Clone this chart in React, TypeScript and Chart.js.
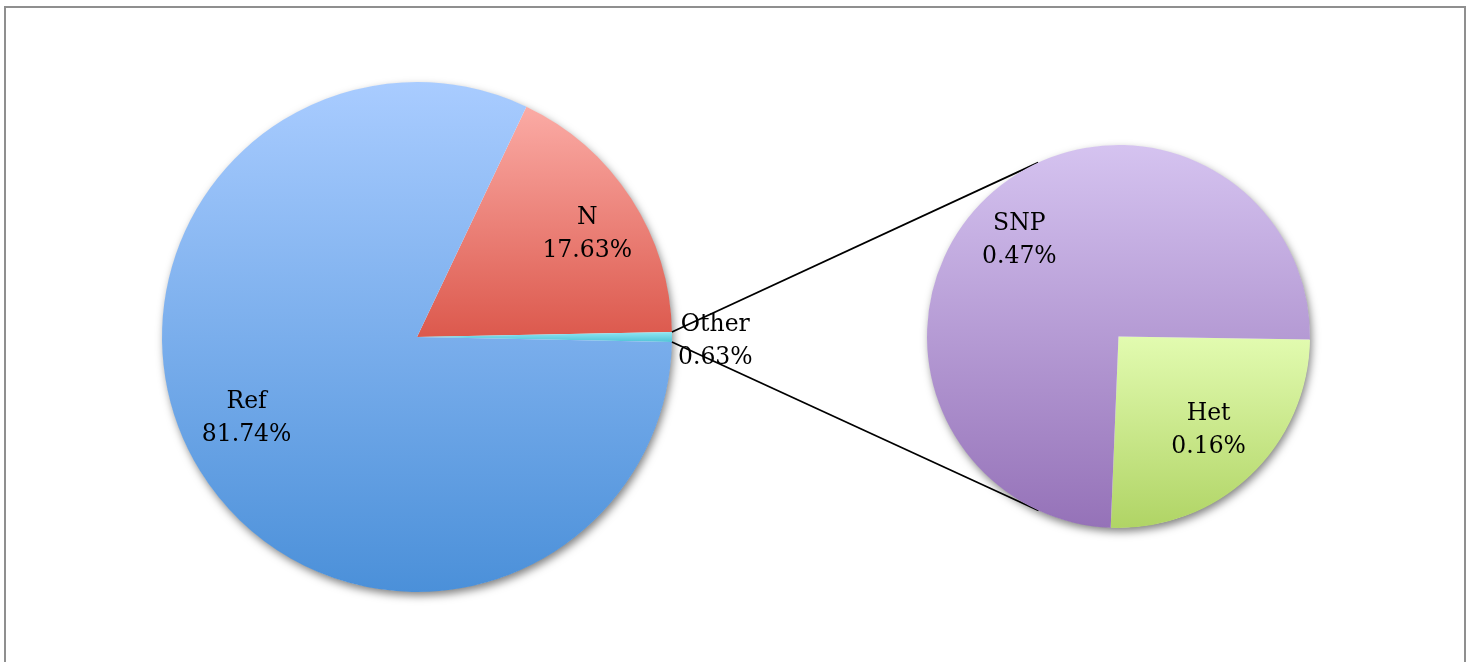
import React, { useEffect, useRef } from "react";
import { Chart, registerables } from "chart.js";

Chart.register(...registerables);

// ---- data ----
const mainLabels = ["N", "Other", "Ref"];
const mainValues = [17.63, 0.63, 81.74];
const subLabels = ["Het", "SNP"];
const subValues = [0.16, 0.47];

// ---- style ----
const mainTopColors = ["#fbaba5", "#92e7f3", "#a9ccff"];
const mainBottomColors = ["#dc594d", "#4fc3d7", "#4b90d9"];
const subTopColors = ["#e2fbb0", "#d5c3f0"];
const subBottomColors = ["#b0d465", "#9572b8"];
const mainRotation = 25.4;
const subRotation = 90.9;
// label placement: [angle nudge (deg), radial fraction]
const mainLabelPlace: [number, number][] = [[1.7, 0.78], [0.8, 1.17], [6.3, 0.74]];
const subLabelPlace: [number, number][] = [[-0.4, 0.68], [-2.6, 0.72]];
const FONT = '23.5px "DejaVu Serif"';

const W = 1476;
const H = 662;

function sliceGradient(tops: string[], bottoms: string[], rotationDeg: number) {
  return (c: any) => {
    const chart = c.chart;
    const area = chart.chartArea;
    const idx = c.dataIndex;
    if (c.type !== "data" || !area || idx === undefined) return tops[0];
    const cx = (area.left + area.right) / 2;
    const cy = (area.top + area.bottom) / 2;
    const r = Math.min(area.right - area.left, area.bottom - area.top) / 2;
    const data: number[] = chart.data.datasets[0].data;
    const total = data.reduce((a, b) => a + b, 0);
    let a0 = -Math.PI / 2 + (rotationDeg * Math.PI) / 180;
    for (let i = 0; i < idx; i++) a0 += (data[i] / total) * Math.PI * 2;
    const a1 = a0 + (data[idx] / total) * Math.PI * 2;
    const ys = [cy, cy + r * Math.sin(a0), cy + r * Math.sin(a1)];
    for (let k = -4; k <= 4; k++) {
      const a = Math.PI / 2 + k * Math.PI;
      if (a >= a0 && a <= a1) ys.push(cy + r * Math.sin(a));
    }
    const ymin = Math.min(...ys);
    const ymax = Math.max(...ys);
    const g = chart.ctx.createLinearGradient(0, ymin, 0, Math.max(ymax, ymin + 1));
    g.addColorStop(0, tops[idx]);
    g.addColorStop(1, bottoms[idx]);
    return g;
  };
}

const shadowPlugin = {
  id: "pieShadow",
  beforeDatasetsDraw(chart: any) {
    const arc = chart.getDatasetMeta(0).data[0];
    if (!arc) return;
    const { x, y, outerRadius } = arc.getProps(["x", "y", "outerRadius"], true);
    const ctx = chart.ctx;
    ctx.save();
    ctx.shadowColor = "rgba(0,0,0,0.5)";
    ctx.shadowBlur = 8;
    ctx.shadowOffsetX = 2;
    ctx.shadowOffsetY = 4;
    ctx.beginPath();
    ctx.arc(x, y, outerRadius - 0.5, 0, Math.PI * 2);
    ctx.fillStyle = "#ffffff";
    ctx.fill();
    ctx.restore();
  },
};

function labelPlugin(place: [number, number][]) {
  return {
    id: "sliceLabels",
    afterDatasetsDraw(chart: any) {
      const meta = chart.getDatasetMeta(0);
      const ctx = chart.ctx;
      const labels = chart.data.labels;
      const data = chart.data.datasets[0].data;
      ctx.save();
      ctx.font = FONT;
      ctx.fillStyle = "#000000";
      ctx.textAlign = "center";
      ctx.textBaseline = "middle";
      meta.data.forEach((arc: any, i: number) => {
        const { x, y, startAngle, endAngle, outerRadius } = arc.getProps(
          ["x", "y", "startAngle", "endAngle", "outerRadius"],
          true
        );
        const [nudge, frac] = place[i];
        const mid = (startAngle + endAngle) / 2 + (nudge * Math.PI) / 180;
        const lx = x + Math.cos(mid) * outerRadius * frac;
        const ly = y + Math.sin(mid) * outerRadius * frac;
        ctx.fillText(String(labels[i]), lx, ly - 16.5);
        ctx.fillText(Number(data[i]).toFixed(2) + "%", lx, ly + 16.5);
      });
      ctx.restore();
    },
  };
}

export default function App() {
  const leftRef = useRef<HTMLCanvasElement>(null);
  const rightRef = useRef<HTMLCanvasElement>(null);

  useEffect(() => {
    if (!leftRef.current || !rightRef.current) return;
    const common = {
      responsive: false,
      maintainAspectRatio: false,
      animation: false as const,
      events: [] as any[],
      plugins: { legend: { display: false }, tooltip: { enabled: false } },
    };

    const left = new Chart(leftRef.current, {
      type: "pie",
      data: {
        labels: mainLabels,
        datasets: [
          {
            data: mainValues,
            backgroundColor: sliceGradient(mainTopColors, mainBottomColors, mainRotation),
            borderWidth: 0,
            hoverOffset: 0,
            offset: 0,
          },
        ],
      },
      options: {
        ...common,
        rotation: mainRotation,
        layout: { padding: { left: 162, top: 82, right: W - 672, bottom: H - 592 } },
      },
      plugins: [shadowPlugin, labelPlugin(mainLabelPlace)],
    } as any);

    const connectorPlugin = {
      id: "connectors",
      beforeDatasetsDraw(chart: any) {
        const otherArc = left.getDatasetMeta(0).data[1] as any;
        const rightArc = chart.getDatasetMeta(0).data[0];
        if (!otherArc || !rightArc) return;
        const o = otherArc.getProps(["x", "y", "startAngle", "endAngle", "outerRadius"], true);
        const c = rightArc.getProps(["x", "y", "outerRadius"], true);
        const ctx = chart.ctx;
        const pts = [o.startAngle, o.endAngle].map((a: number) => ({
          x: o.x + Math.cos(a) * o.outerRadius,
          y: o.y + Math.sin(a) * o.outerRadius,
        }));
        ctx.save();
        ctx.strokeStyle = "#000000";
        ctx.lineWidth = 1.8;
        pts.forEach((p: any, k: number) => {
          const dx = p.x - c.x;
          const dy = p.y - c.y;
          const d = Math.hypot(dx, dy);
          const phi = Math.atan2(dy, dx);
          const th = Math.acos(c.outerRadius / d);
          const t1 = { x: c.x + Math.cos(phi + th) * c.outerRadius, y: c.y + Math.sin(phi + th) * c.outerRadius };
          const t2 = { x: c.x + Math.cos(phi - th) * c.outerRadius, y: c.y + Math.sin(phi - th) * c.outerRadius };
          const t = k === 0 ? (t1.y < t2.y ? t1 : t2) : (t1.y > t2.y ? t1 : t2);
          ctx.beginPath();
          ctx.moveTo(p.x, p.y);
          ctx.lineTo(t.x, t.y);
          ctx.stroke();
        });
        ctx.restore();
      },
    };

    const right = new Chart(rightRef.current, {
      type: "pie",
      data: {
        labels: subLabels,
        datasets: [
          {
            data: subValues,
            backgroundColor: sliceGradient(subTopColors, subBottomColors, subRotation),
            borderWidth: 0,
            hoverOffset: 0,
            offset: 0,
          },
        ],
      },
      options: {
        ...common,
        rotation: subRotation,
        layout: { padding: { left: 927, top: 145, right: W - 1310, bottom: H - 528 } },
      },
      plugins: [connectorPlugin, shadowPlugin, labelPlugin(subLabelPlace)],
    } as any);

    return () => {
      right.destroy();
      left.destroy();
    };
  }, []);

  const canvasStyle: React.CSSProperties = {
    position: "absolute",
    left: 0,
    top: 0,
    width: W,
    height: H,
  };

  return (
    <div
      style={{
        position: "fixed",
        left: 0,
        top: 0,
        width: W,
        height: H,
        overflow: "hidden",
        background: "#ffffff",
      }}
    >
      <div
        style={{
          position: "absolute",
          left: 4,
          top: 6,
          width: 1458,
          height: 700,
          border: "2px solid #8f8f8f",
          background: "#ffffff",
        }}
      />
      <canvas ref={leftRef} width={W} height={H} style={canvasStyle} />
      <canvas ref={rightRef} width={W} height={H} style={canvasStyle} />
    </div>
  );
}
